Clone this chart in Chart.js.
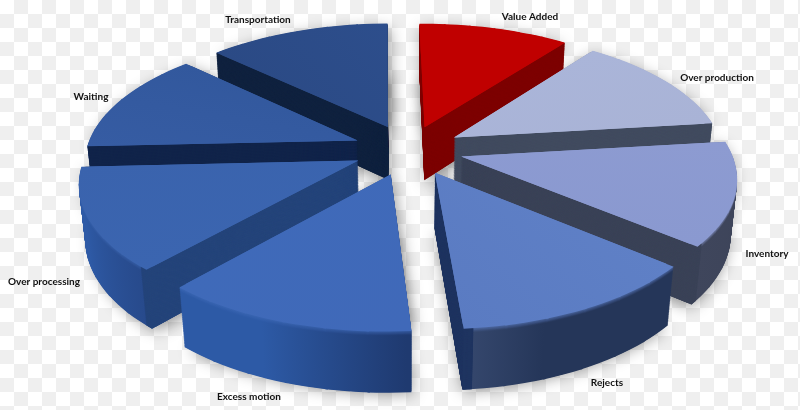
<!doctype html>
<html><head><meta charset="utf-8">
<style>
html,body{margin:0;padding:0;width:800px;height:410px;overflow:hidden;
background:conic-gradient(#efefef 25%,#fff 0 50%,#efefef 0 75%,#fff 0) 0 0/28px 28px}
canvas{display:block}
</style>
<script src="https://cdn.jsdelivr.net/npm/chart.js@4"></script>
</head><body>
<canvas id="c" width="800" height="410"></canvas>
<script>
const categories=['Value Added','Over production','Inventory','Rejects','Excess motion','Over processing','Waiting','Transportation'];
const shares=[10.53,12.82,12.95,12.75,12.69,12.76,12.82,12.69];
const explode=[0.19,0.195,0.2,0.205,0.205,0.205,0.205,0.2];
const topColorsA=['#c00000','#aab5d9','#8d9bd1','#5f80c6','#4069b9','#3b65b0','#365ca3','#2b4a85'];
const topColorsB=['#c00000','#a9b3d6','#8a99d0','#5a7bc2','#3f6ab9','#3a63ad','#32589d','#2d4e8c'];
const rimColorsA=['#7d0000','#414b5f','#3c4358','#253659','#1f3a70','#27498a','#2c5299','#10223f'];
const rimColorsB=['#7d0000','#414b5f','#3f465c','#36486e','#2d5aa6','#2e5aa6','#2c5299','#10223f'];
const rimHoldA=[0,0,0,0.68,0.02,0,0,0];
const rimHoldB=[1,1,1,1,0.6,0.6,1,1];
const wallColors=['#7d0000','#414b5f','#3a4257','#1f3460','#20386a','#24447a','#11244a','#10223f'];
const wallEdge=[1,1,1,1,0,-1,-1,-1];
const paintOrder=[0,7,1,6,2,5,3,4];
const labelAnchors=[[530,17],[717,78],[767,254],[607,383],[249,397],[44,282],[91,97],[258,20]];
const camera=[272.173,-57.6765,7.79845,408.936,-1.10496,102.869,57.6960,149.361,0.0047546,-0.149863,0.0190754];

function project(X,Y,z){const c=camera,w=c[8]*X+c[9]*Y+c[10]*z+1;
  return [(c[0]*X+c[1]*Y+c[2]*z+c[3])/w,(c[4]*X+c[5]*Y+c[6]*z+c[7])/w];}
function hex(h){return [1,3,5].map(i=>parseInt(h.substr(i,2),16));}
function mix(a,b,t){const p=hex(a),q=hex(b);return 'rgb('+p.map((v,i)=>Math.round(v+(q[i]-v)*t)).join(',')+')';}
const SOLID={borderWidth:0,offset:0,spacing:0,circular:true,borderAlign:'center',borderRadius:0,borderColor:'rgba(0,0,0,0)'};

function paintWedge(ctx,el,i,a,b,z,fill,da,db,rScale,inner){
  const R=el.outerRadius,cx=el.x,cy=el.y,mid=(el.startAngle+el.endAngle)/2,d=explode[i];
  const ox=d*Math.cos(mid),oy=d*Math.sin(mid);
  const sc=project(ox,oy,z),sa=project(ox+Math.cos(a),oy+Math.sin(a),z),sb=project(ox+Math.cos(b),oy+Math.sin(b),z);
  const ux=R*Math.cos(a),uy=R*Math.sin(a),vx=R*Math.cos(b),vy=R*Math.sin(b),det=ux*vy-uy*vx;
  const wax=sa[0]-sc[0],way=sa[1]-sc[1],wbx=sb[0]-sc[0],wby=sb[1]-sc[1];
  const m11=(wax*vy-wbx*uy)/det,m12=(-wax*vx+wbx*ux)/det,m21=(way*vy-wby*uy)/det,m22=(-way*vx+wby*ux)/det;
  const keep=[el.startAngle,el.endAngle,el.circumference,el.options,el.outerRadius,el.innerRadius];
  ctx.save();
  ctx.transform(m11,m21,m12,m22,sc[0]-m11*cx-m12*cy,sc[1]-m21*cx-m22*cy);
  el.startAngle=a-da;el.endAngle=b+db;el.circumference=el.endAngle-el.startAngle;
  el.outerRadius=R*(rScale||1);el.innerRadius=R*(inner||0);
  el.options=Object.assign({},SOLID,{backgroundColor:fill(ctx,cx,cy,R)});
  el.draw(ctx);
  [el.startAngle,el.endAngle,el.circumference,el.options,el.outerRadius,el.innerRadius]=keep;
  ctx.restore();
}
function gradFill(a,b,s,e,holdA,holdB){return (ctx,cx,cy,R)=>{
  const g=ctx.createLinearGradient(cx+R*Math.cos(s),cy+R*Math.sin(s),cx+R*Math.cos(e),cy+R*Math.sin(e));
  g.addColorStop(holdA||0,a);g.addColorStop(holdB===undefined?1:holdB,b);return g;};}
function paintSlice(ctx,el,i,z,fill,inner){
  const n=6,s=el.startAngle,e=el.endAngle,st=(e-s)/n,eps=0.004;
  for(let k=0;k<n;k++)paintWedge(ctx,el,i,s+k*st,s+(k+1)*st,z,fill,k?eps:0,k<n-1?eps:0,1,inner);
}
const pie3d={id:'pie3d',
  beforeDatasetDraw(chart,args){
    const ctx=chart.ctx,els=chart.getDatasetMeta(args.index).data,layers=90;
    ctx.save();
    ctx.shadowColor='rgba(0,0,0,0.42)';ctx.shadowBlur=15;ctx.shadowOffsetX=2;ctx.shadowOffsetY=4;
    els.forEach((el,i)=>{[1,0].forEach(z=>{
      paintWedge(ctx,el,i,el.startAngle,el.endAngle,z,()=>'#888',0,0,0.985);});});
    ctx.restore();
    paintOrder.forEach(i=>{
      const el=els[i],s=el.startAngle,e=el.endAngle,wall=()=>wallColors[i];
      // interior of the solid, in the colour of its flat side
      for(let l=layers;l>=1;l--)paintWedge(ctx,el,i,s,e,l/layers,wall,0,0,0.98);
      // curved outer side
      for(let l=layers;l>=1;l--){
        const z=l/layers,h=Math.max(0,1-z/0.07)*0.65;
        paintSlice(ctx,el,i,z,gradFill(mix(rimColorsA[i],topColorsB[i],h),mix(rimColorsB[i],topColorsB[i],h),s,e,rimHoldA[i],rimHoldB[i]),0.72);
      }
      // flat side that faces the viewer
      if(wallEdge[i]){
        const w=0.03,a=wallEdge[i]>0?e-w:s,b=wallEdge[i]>0?e:s+w;
        for(let l=layers;l>=1;l--)paintWedge(ctx,el,i,a,b,l/layers,wall,0,0);
      }
      // top face: one whole under-wedge hides the seams of the finer wedges
      const topFill=gradFill(topColorsA[i],topColorsB[i],s,e);
      paintWedge(ctx,el,i,s,e,0,topFill,0,0,0.97);
      paintSlice(ctx,el,i,0,topFill);
    });
    return false;
  },
  afterDraw(chart){
    const ctx=chart.ctx;ctx.save();
    ctx.font='bold 10px Lato';ctx.fillStyle='#111';ctx.textAlign='center';ctx.textBaseline='middle';
    categories.forEach((t,i)=>ctx.fillText(t,labelAnchors[i][0],labelAnchors[i][1]));
    ctx.restore();
  }};
new Chart(document.getElementById('c'),{
  type:'pie',
  data:{labels:categories,datasets:[{data:shares,backgroundColor:topColorsA,borderWidth:0}]},
  options:{responsive:false,animation:false,plugins:{legend:{display:false},tooltip:{enabled:false}}},
  plugins:[pie3d]
});
</script></body></html>
